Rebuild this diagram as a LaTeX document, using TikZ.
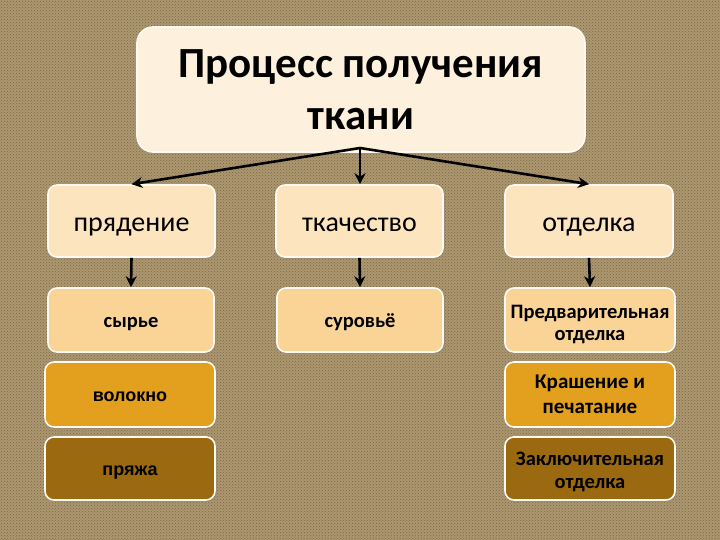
\documentclass[tikz,border=0pt]{standalone}
\usepackage{fontspec}
\setmainfont{Carlito}
\newfontfamily\arialf{Liberation Sans}
\usetikzlibrary{arrows.meta,shadows,patterns}
\definecolor{bgc}{RGB}{172,152,112}
\definecolor{bgd}{RGB}{125,100,65}
\definecolor{cream}{RGB}{253,240,220}
\definecolor{peach}{RGB}{252,228,190}
\definecolor{peachb}{RGB}{249,212,150}
\definecolor{orng}{RGB}{226,160,30}
\definecolor{brwn}{RGB}{155,105,15}
\tikzset{
  box/.style={draw=white!80!peach, line width=1.6pt, rounded corners=9pt, align=center,
    inner sep=0pt, text=black, drop shadow={shadow xshift=1.5pt, shadow yshift=-1.5pt, opacity=0.35}},
  conn/.style={line width=2.6pt, -{Stealth[length=11pt,width=11pt]}}
}
\begin{document}
\begin{tikzpicture}[x=1pt,y=-1pt]
\fill[bgc] (0,0) rectangle (720,540);
\fill[pattern=crosshatch dots, pattern color=bgd] (0,0) rectangle (720,540);
\useasboundingbox (0,0) rectangle (720,540);
% title
\node[box, fill=cream, minimum width=448pt, minimum height=125pt, rounded corners=16pt,
  font=\fontsize{43}{52}\selectfont\bfseries] (title) at (361,89.5) {Процесс получения\\ткани};
% row 1
\tikzset{r1/.style={box, fill=peach, minimum height=72pt, text height=28pt, text depth=6pt, font=\fontsize{28}{32}\selectfont}}
\node[r1, minimum width=167pt] (b1) at (131.5,221) {прядение};
\node[r1, minimum width=167pt] (b2) at (359.5,221) {ткачество};
\node[r1, minimum width=168pt] (b3) at (589,221) {отделка};
% row 2
\tikzset{r2/.style={box, fill=peachb, minimum height=64pt, text height=19pt, text depth=4.5pt, font=\fontsize{20.5}{24}\selectfont\bfseries}}
\node[r2, minimum width=166pt] (c1) at (131,320) {сырье};
\node[r2, minimum width=166pt] (c2) at (360,320) {суровьё};
\node[box, fill=peachb, minimum width=170pt, minimum height=64pt, font=\fontsize{20.5}{22}\selectfont\bfseries] (c3) at (590,320) {\rule{0pt}{21.3pt}Предварительная\\отделка};
% rows 3-4 left
\tikzset{lc/.style={box, minimum width=170pt, text height=17pt, text depth=3.6pt, font=\arialf\fontsize{18}{22}\selectfont\bfseries}}
\node[lc, fill=orng, minimum height=65pt] (d1) at (130,394.5) {волокно};
\node[lc, fill=brwn, minimum height=63pt] (e1) at (130,468.5) {пряжа};
% rows 3-4 right
\node[box, fill=orng, minimum width=170pt, minimum height=65pt, font=\fontsize{21}{25}\selectfont\bfseries] (d3) at (590,394.5) {Крашение и\\печатание};
\node[box, fill=brwn, minimum width=170pt, minimum height=63pt, font=\fontsize{20.5}{23}\selectfont\bfseries] (e3) at (590,468.5) {\rule{0pt}{19.3pt}Заключительная\\отделка};
% connectors
\coordinate (ts) at (360,148);
\draw[conn] (ts) -- (b1.north);
\draw[conn] (ts) -- (b2.north -| ts);
\draw[conn] (ts) -- (b3.north);
\draw[conn] (b1.south) -- (c1.north);
\draw[conn] (b2.south) -- (c2.north);
\draw[conn] (b3.south) -- (c3.north);
\end{tikzpicture}
\end{document}
